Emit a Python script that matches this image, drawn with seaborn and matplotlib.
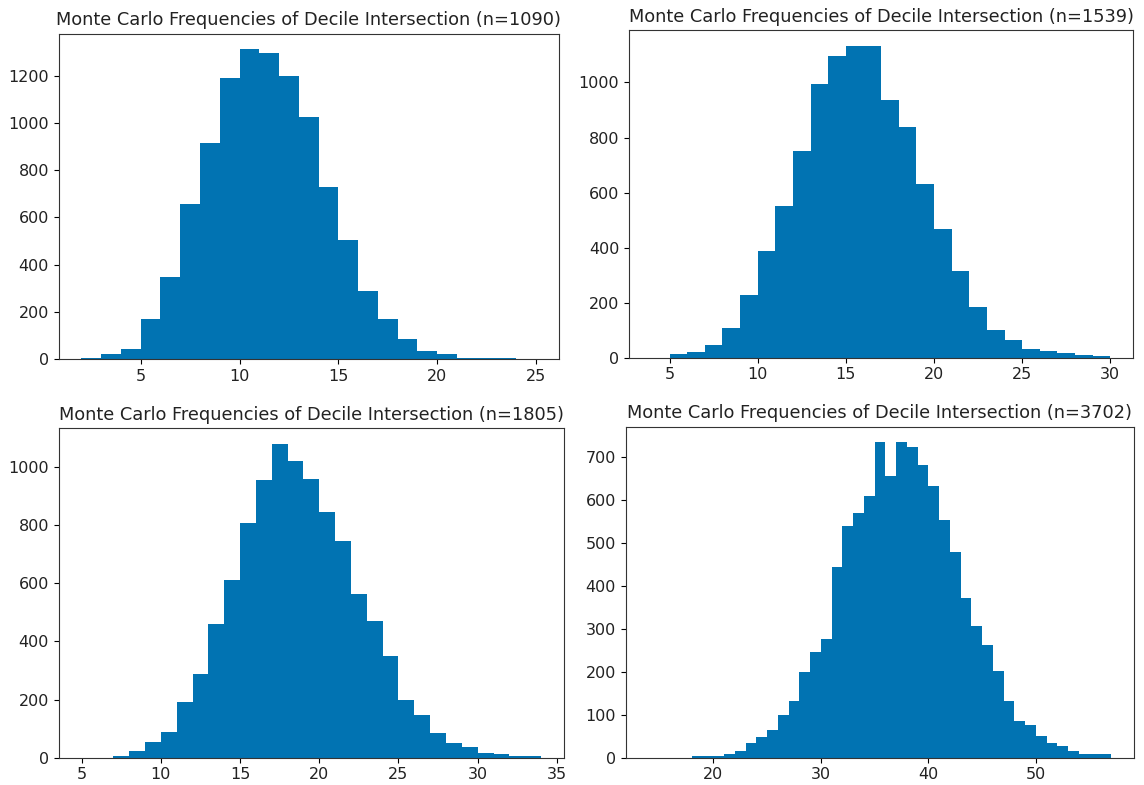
import matplotlib
matplotlib.use('Agg')
import matplotlib.pyplot as plt
import numpy as np
import pandas as pd
import seaborn as sns

# counts per unit-width bin
start1 = 2
counts1 = [4, 24, 42, 170, 347, 659, 917, 1190, 1312, 1294, 1197, 1026, 728, 506,
           290, 170, 85, 34, 23, 4, 4, 4, 0]

start2 = 4
counts2 = [0, 14, 20, 47, 108, 229, 387, 550, 752, 993, 1096, 1134, 1134, 938,
           839, 631, 468, 316, 185, 102, 64, 31, 25, 16, 10, 8]

start3 = 5
counts3 = [0, 0, 6, 22, 53, 90, 190, 288, 460, 611, 809, 955, 1080, 1023, 960,
           846, 746, 564, 470, 351, 200, 147, 85, 49, 38, 17, 11, 7, 7]

start4 = 14
counts4 = [0, 0, 0, 0, 4, 5, 5, 9, 16, 33, 47, 65, 100, 132, 199, 245, 277, 444,
           538, 570, 609, 733, 655, 733, 722, 680, 631, 553, 478, 372, 305, 262,
           202, 132, 86, 75, 51, 33, 26, 15, 9, 9, 9]

sizes = [1090, 1539, 1805, 3702]

plt.rcParams['font.family'] = ['DejaVu Sans']
plt.rcParams['xtick.labelsize'] = 11.5
plt.rcParams['ytick.labelsize'] = 11.5
plt.rcParams['text.color'] = '#222222'
plt.rcParams['xtick.labelcolor'] = '#222222'
plt.rcParams['ytick.labelcolor'] = '#222222'
plt.rcParams['axes.edgecolor'] = '#333333'
blue = sns.color_palette("colorblind")[0]

fig = plt.figure(figsize=(11.44, 7.85), dpi=100)
boxes = [[0.0513, 0.5423, 0.4371, 0.4148],
         [0.5498, 0.5443, 0.4408, 0.4175],
         [0.0513, 0.0348, 0.4417, 0.4196],
         [0.5469, 0.0348, 0.4446, 0.4217]]

for box, start, counts, n in zip(boxes, [start1, start2, start3, start4],
                                 [counts1, counts2, counts3, counts4], sizes):
    ax = fig.add_axes(box)
    edges = list(range(start, start + len(counts) + 1))
    df = pd.DataFrame({'value': [e + 0.5 for e in edges[:-1]], 'count': counts})
    sns.histplot(data=df, x='value', weights='count', bins=edges, ax=ax,
                 color=blue, alpha=1, linewidth=0)
    ax.set_xlabel('')
    ax.set_ylabel('')
    ax.set_title('Monte Carlo Frequencies of Decile Intersection (n=%d)' % n,
                 fontsize=12.8)

fig.savefig('out.png', dpi=100)
